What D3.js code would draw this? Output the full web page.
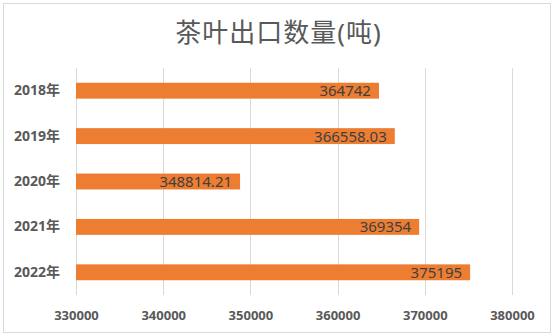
<!DOCTYPE html>
<html>
<head>
<meta charset="utf-8">
<script src="https://cdn.jsdelivr.net/npm/d3@7"></script>
<style>
  html, body { margin: 0; padding: 0; background: #fff; }
  svg { display: block; }
</style>
</head>
<body>
<svg id="chart" width="557" height="336"></svg>
<script>
// Tea export volume by year (tonnes)
const categories = ["2018年", "2019年", "2020年", "2021年", "2022年"];
const values = [364742, 366558.03, 348814.21, 369354, 375195];
const valueLabels = ["364742", "366558.03", "348814.21", "369354", "375195"];
const xTicks = [330000, 340000, 350000, 360000, 370000, 380000];
const title = "茶叶出口数量(吨)";

const W = 557, H = 336;
const margin = { top: 68, right: 45, bottom: 41, left: 76 };
const plotW = W - margin.left - margin.right;
const plotH = H - margin.top - margin.bottom;

const svg = d3.select("#chart");
const fontFamily = "'Noto Sans', 'Noto Sans CJK SC', sans-serif";

// chart frame
svg.append("rect")
  .attr("x", 3.5).attr("y", 3.5)
  .attr("width", 547).attr("height", 329)
  .attr("fill", "#fff")
  .attr("stroke", "#d9d9d9")
  .attr("stroke-width", 1);

// title
svg.append("text")
  .attr("x", W / 2)
  .attr("y", 42)
  .attr("text-anchor", "middle")
  .attr("font-family", fontFamily)
  .attr("font-size", 26)
  .attr("letter-spacing", 1)
  .attr("fill", "#595959")
  .text(title);

const x = d3.scaleLinear()
  .domain([330000, 380000])
  .range([0, plotW]);

const y = d3.scaleBand()
  .domain(categories)
  .range([0, plotH])
  .paddingInner(0.65)
  .paddingOuter(0.325);

const g = svg.append("g")
  .attr("transform", `translate(${margin.left},${margin.top})`);

// vertical gridlines
g.append("g")
  .selectAll("line")
  .data(xTicks)
  .join("line")
  .attr("x1", d => Math.round(x(d)) + 0.5)
  .attr("x2", d => Math.round(x(d)) + 0.5)
  .attr("y1", 0)
  .attr("y2", plotH)
  .attr("stroke", "#d9d9d9")
  .attr("stroke-width", 1);

// bars
g.append("g")
  .selectAll("rect")
  .data(values)
  .join("rect")
  .attr("x", x(330000))
  .attr("y", (d, i) => y(categories[i]))
  .attr("width", d => x(d) - x(330000))
  .attr("height", y.bandwidth())
  .attr("fill", "#ED7D31");

// value labels at the inside end of each bar
g.append("g")
  .selectAll("text")
  .data(values)
  .join("text")
  .attr("x", d => x(d) - 8)
  .attr("y", (d, i) => y(categories[i]) + y.bandwidth() / 2)
  .attr("dy", "0.36em")
  .attr("text-anchor", "end")
  .attr("font-family", fontFamily)
  .attr("font-size", 15)
  .attr("fill", "#404040")
  .text((d, i) => valueLabels[i]);

// category axis
const yAxis = g.append("g")
  .call(d3.axisLeft(y).tickSize(0).tickPadding(16));
yAxis.select(".domain").remove();
yAxis.selectAll("text")
  .attr("font-family", fontFamily)
  .attr("font-size", 14)
  .attr("font-weight", "bold")
  .attr("fill", "#595959");

// value axis
const xAxis = g.append("g")
  .attr("transform", `translate(0,${plotH})`)
  .call(d3.axisBottom(x).tickValues(xTicks).tickFormat(d3.format("d")).tickSize(0).tickPadding(16));
xAxis.select(".domain").remove();
xAxis.selectAll("text")
  .attr("font-family", fontFamily)
  .attr("font-size", 13)
  .attr("font-weight", "bold")
  .attr("fill", "#595959");
</script>
</body>
</html>
